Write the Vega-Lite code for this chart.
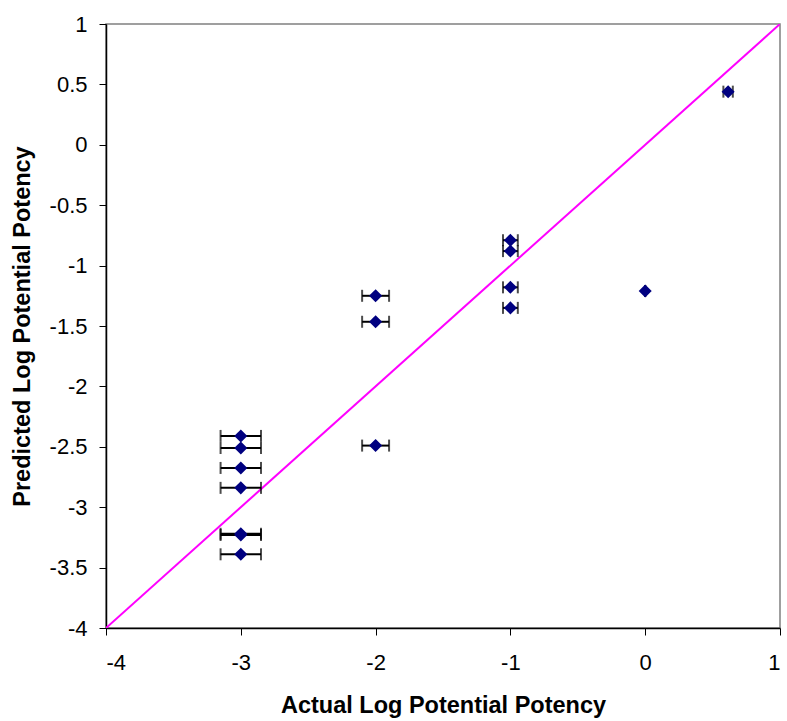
{
  "$schema": "https://vega.github.io/schema/vega-lite/v6.json",
  "width": 674,
  "height": 604,
  "autosize": {"type": "none"},
  "padding": {"left": 106, "top": 24, "right": 7, "bottom": 93},
  "background": "white",
  "config": {
    "font": "Liberation Sans",
    "view": {"stroke": "#808080", "strokeWidth": 1.5},
    "axis": {
      "grid": false,
      "domainColor": "black",
      "domainWidth": 1.5,
      "tickColor": "black",
      "tickWidth": 1,
      "tickSize": 7,
      "labelFont": "Liberation Sans",
      "labelFontSize": 22,
      "labelColor": "black",
      "titleFont": "Liberation Sans",
      "titleFontSize": 23.5,
      "titleFontWeight": "bold",
      "titleColor": "black"
    }
  },
  "datasets": {
    "pts": [
      {"x": -3, "y": -2.41, "xlo": -3.15, "xhi": -2.85},
      {"x": -3, "y": -2.51, "xlo": -3.15, "xhi": -2.85},
      {"x": -3, "y": -2.675, "xlo": -3.15, "xhi": -2.85},
      {"x": -3, "y": -2.84, "xlo": -3.15, "xhi": -2.85},
      {"x": -3, "y": -3.22, "xlo": -3.15, "xhi": -2.85},
      {"x": -3, "y": -3.23, "xlo": -3.15, "xhi": -2.85},
      {"x": -3, "y": -3.39, "xlo": -3.15, "xhi": -2.85},
      {"x": -2, "y": -2.49, "xlo": -2.1, "xhi": -1.9},
      {"x": -2, "y": -1.25, "xlo": -2.1, "xhi": -1.9},
      {"x": -2, "y": -1.465, "xlo": -2.1, "xhi": -1.9},
      {"x": -1, "y": -0.79, "xlo": -1.055, "xhi": -0.945},
      {"x": -1, "y": -0.88, "xlo": -1.055, "xhi": -0.945},
      {"x": -1, "y": -1.18, "xlo": -1.055, "xhi": -0.945},
      {"x": -1, "y": -1.35, "xlo": -1.055, "xhi": -0.945},
      {"x": 0, "y": -1.21, "xlo": 0, "xhi": 0},
      {"x": 0.615, "y": 0.44, "xlo": 0.58, "xhi": 0.65}
    ],
    "diag": [
      {"x": -4, "y": -4},
      {"x": 1, "y": 1}
    ]
  },
  "layer": [
    {
      "data": {"name": "diag"},
      "mark": {"type": "line", "color": "#FF00FF", "strokeWidth": 2, "clip": true},
      "encoding": {
        "x": {
          "field": "x", "type": "quantitative",
          "scale": {"domain": [-4, 1], "nice": false, "zero": false},
          "axis": {
            "values": [-4, -3, -2, -1, 0, 1],
            "labelExpr": "toString(datum.value)",
            "labelPadding": 17,
            "title": "Actual Log Potential Potency",
            "titlePadding": 20
          }
        },
        "y": {
          "field": "y", "type": "quantitative",
          "scale": {"domain": [-4, 1], "nice": false, "zero": false},
          "axis": {
            "values": [-4, -3.5, -3, -2.5, -2, -1.5, -1, -0.5, 0, 0.5, 1],
            "labelExpr": "toString(datum.value)",
            "labelPadding": 12,
            "title": "Predicted Log Potential Potency",
            "titlePadding": 15
          }
        }
      }
    },
    {
      "data": {"name": "pts"},
      "mark": {"type": "rule", "color": "black", "strokeWidth": 2},
      "encoding": {
        "x": {"field": "xlo", "type": "quantitative"},
        "x2": {"field": "xhi"},
        "y": {"field": "y", "type": "quantitative"}
      }
    },
    {
      "data": {"name": "pts"},
      "mark": {"type": "tick", "orient": "vertical", "color": "black", "size": 12, "thickness": 2},
      "encoding": {
        "x": {"field": "xlo", "type": "quantitative"},
        "y": {"field": "y", "type": "quantitative"}
      }
    },
    {
      "data": {"name": "pts"},
      "mark": {"type": "tick", "orient": "vertical", "color": "black", "size": 12, "thickness": 2},
      "encoding": {
        "x": {"field": "xhi", "type": "quantitative"},
        "y": {"field": "y", "type": "quantitative"}
      }
    },
    {
      "data": {"name": "pts"},
      "mark": {"type": "point", "shape": "diamond", "filled": true, "color": "#000080", "opacity": 1, "size": 170},
      "encoding": {
        "x": {"field": "x", "type": "quantitative"},
        "y": {"field": "y", "type": "quantitative"}
      }
    }
  ]
}
